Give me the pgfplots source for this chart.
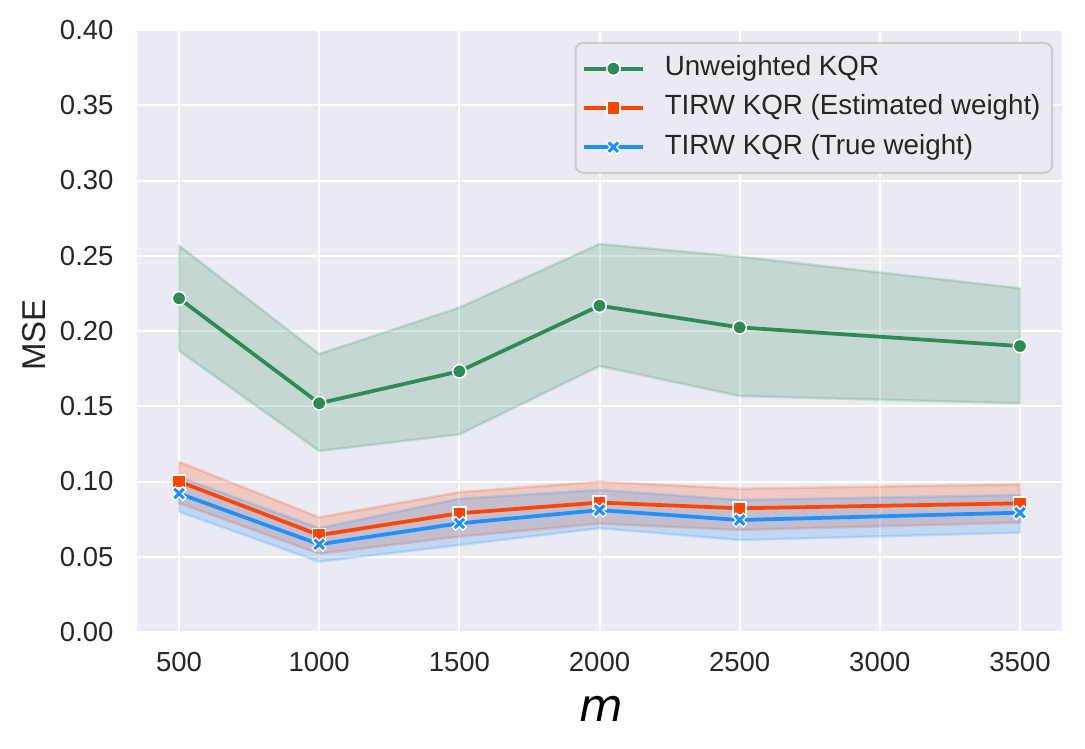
\documentclass[border=0pt]{standalone}
\usepackage{fontspec}
\setmainfont{Liberation Sans}
\newfontfamily\djv{DejaVu Sans}
\usepackage{pgfplots}
\pgfplotsset{compat=1.18}
\definecolor{bgc}{HTML}{EAEAF2}
\definecolor{sgreen}{HTML}{2E8B57}
\definecolor{ored}{HTML}{FF4500}
\definecolor{dblue}{HTML}{1E90FF}
\definecolor{txt}{HTML}{262626}
\definecolor{lgray}{HTML}{CCCCCC}

\pgfdeclareplotmark{Xfill}{%
  \pgftransformrotate{45}%
  \pgfmathsetlengthmacro\Xr{1.15*\pgfplotmarksize}%
  \pgfmathsetlengthmacro\Xt{0.36*\pgfplotmarksize}%
  \pgfpathmoveto{\pgfqpoint{\Xt}{\Xr}}%
  \pgfpathlineto{\pgfqpoint{\Xt}{\Xt}}%
  \pgfpathlineto{\pgfqpoint{\Xr}{\Xt}}%
  \pgfpathlineto{\pgfqpoint{\Xr}{-\Xt}}%
  \pgfpathlineto{\pgfqpoint{\Xt}{-\Xt}}%
  \pgfpathlineto{\pgfqpoint{\Xt}{-\Xr}}%
  \pgfpathlineto{\pgfqpoint{-\Xt}{-\Xr}}%
  \pgfpathlineto{\pgfqpoint{-\Xt}{-\Xt}}%
  \pgfpathlineto{\pgfqpoint{-\Xr}{-\Xt}}%
  \pgfpathlineto{\pgfqpoint{-\Xr}{\Xt}}%
  \pgfpathlineto{\pgfqpoint{-\Xt}{\Xt}}%
  \pgfpathlineto{\pgfqpoint{-\Xt}{\Xr}}%
  \pgfpathclose
  \pgfusepathqfillstroke
}

\pgfplotstableread{
x    g      o      b
500  0.2217 0.1000 0.0920
1000 0.1520 0.0644 0.0583
1500 0.1732 0.0789 0.0722
2000 0.2168 0.0860 0.0810
2500 0.2024 0.0822 0.0744
3500 0.1900 0.0855 0.0793
}\means

\begin{document}
\begin{tikzpicture}
\begin{axis}[
  scale only axis, width=370pt, height=240.8pt,
  xmin=350, xmax=3650, ymin=0, ymax=0.40,
  xtick={500,1000,1500,2000,2500,3000,3500},
  ytick={0,0.05,0.1,0.15,0.2,0.25,0.3,0.35,0.4},
  scaled x ticks=false, scaled y ticks=false,
  /pgf/number format/assume math mode=true,
  x tick label style={/pgf/number format/1000 sep={}},
  y tick label style={/pgf/number format/fixed, /pgf/number format/fixed zerofill, /pgf/number format/precision=2},
  tick label style={font=\fontsize{11}{13}\selectfont, text=txt},
  yticklabel style={anchor=east, inner sep=0pt, xshift=-9.2pt},
  xticklabel style={anchor=north, inner sep=0pt, yshift=-8pt},
  axis background/.style={fill=bgc},
  axis line style={draw=none},
  major tick length=0pt, tick style={draw=none},
  grid=major, major grid style={white, line width=0.8pt},
  legend style={at={(rel axis cs:1,1)}, anchor=north east, xshift=-3.6pt, yshift=-4.8pt,
    fill=bgc, draw=lgray, line width=0.8pt, rounded corners=3pt,
    font=\fontsize{11.1}{13}\selectfont, text=txt,
    inner xsep=2.6pt, inner ysep=3pt, row sep=1.2pt,
    nodes={inner sep=2pt, text height=8pt, text depth=2.5pt},
    /tikz/every odd column/.append style={column sep=6pt}},
  legend cell align=left,
  legend image code/.code={\draw[mark repeat=2, mark phase=2, line width=1.5pt] plot coordinates {(0pt,0pt) (11.8pt,0pt) (23.6pt,0pt)};},
]
% bands
\addplot[forget plot, fill=sgreen, fill opacity=0.2, draw=sgreen, draw opacity=0.2, line width=1pt] coordinates {
 (500,0.2567) (1000,0.1847) (1500,0.2155) (2000,0.2578) (2500,0.2494) (3500,0.2284)
 (3500,0.1520) (2500,0.1568) (2000,0.1767) (1500,0.1313) (1000,0.1203) (500,0.1869)} -- cycle;
\addplot[forget plot, fill=ored, fill opacity=0.2, draw=ored, draw opacity=0.2, line width=1pt] coordinates {
 (500,0.1130) (1000,0.0762) (1500,0.0929) (2000,0.0999) (2500,0.0952) (3500,0.0981)
 (3500,0.0727) (2500,0.0678) (2000,0.0720) (1500,0.0634) (1000,0.0520) (500,0.0857)} -- cycle;
\addplot[forget plot, fill=dblue, fill opacity=0.2, draw=dblue, draw opacity=0.2, line width=1pt] coordinates {
 (500,0.1030) (1000,0.0690) (1500,0.0885) (2000,0.0944) (2500,0.0877) (3500,0.0910)
 (3500,0.0660) (2500,0.0611) (2000,0.0690) (1500,0.0578) (1000,0.0467) (500,0.0800)} -- cycle;
% lines
\addplot[sgreen, line width=1.5pt, mark=*, mark size=2.7pt, mark options={fill=sgreen, draw=white, line width=0.6pt}] table[x=x, y=g] {\means};
\addlegendentry{Unweighted KQR}
\addplot[ored, line width=1.5pt, mark=square*, mark size=2.6pt, mark options={fill=ored, draw=white, line width=0.6pt}] table[x=x, y=o] {\means};
\addlegendentry{TIRW KQR (Estimated weight)}
\addplot[dblue, line width=1.5pt, mark=Xfill, mark size=2.6pt, mark options={fill=dblue, draw=white, line width=0.5pt}] table[x=x, y=b] {\means};
\addlegendentry{TIRW KQR (True weight)}
\coordinate (SW) at (rel axis cs:0,0);
\coordinate (NE) at (rel axis cs:1,1);
\coordinate (S) at (rel axis cs:0.5,0);
\coordinate (W) at (rel axis cs:0,0.5);
\end{axis}
\node[rotate=90, anchor=center, font=\fontsize{13.2}{15}\selectfont, text=txt] at ([xshift=-41.2pt, yshift=-1.6pt]W) {MSE};
\node[anchor=base, font=\djv\itshape\fontsize{18}{20}\selectfont, text=black] at ([xshift=0.9pt, yshift=-35.9pt]S) {m};
\path[use as bounding box] ([shift={(-54.8pt,-46.4pt)}]SW) rectangle ([shift={(9.2pt,12pt)}]NE);
\end{tikzpicture}
\end{document}
